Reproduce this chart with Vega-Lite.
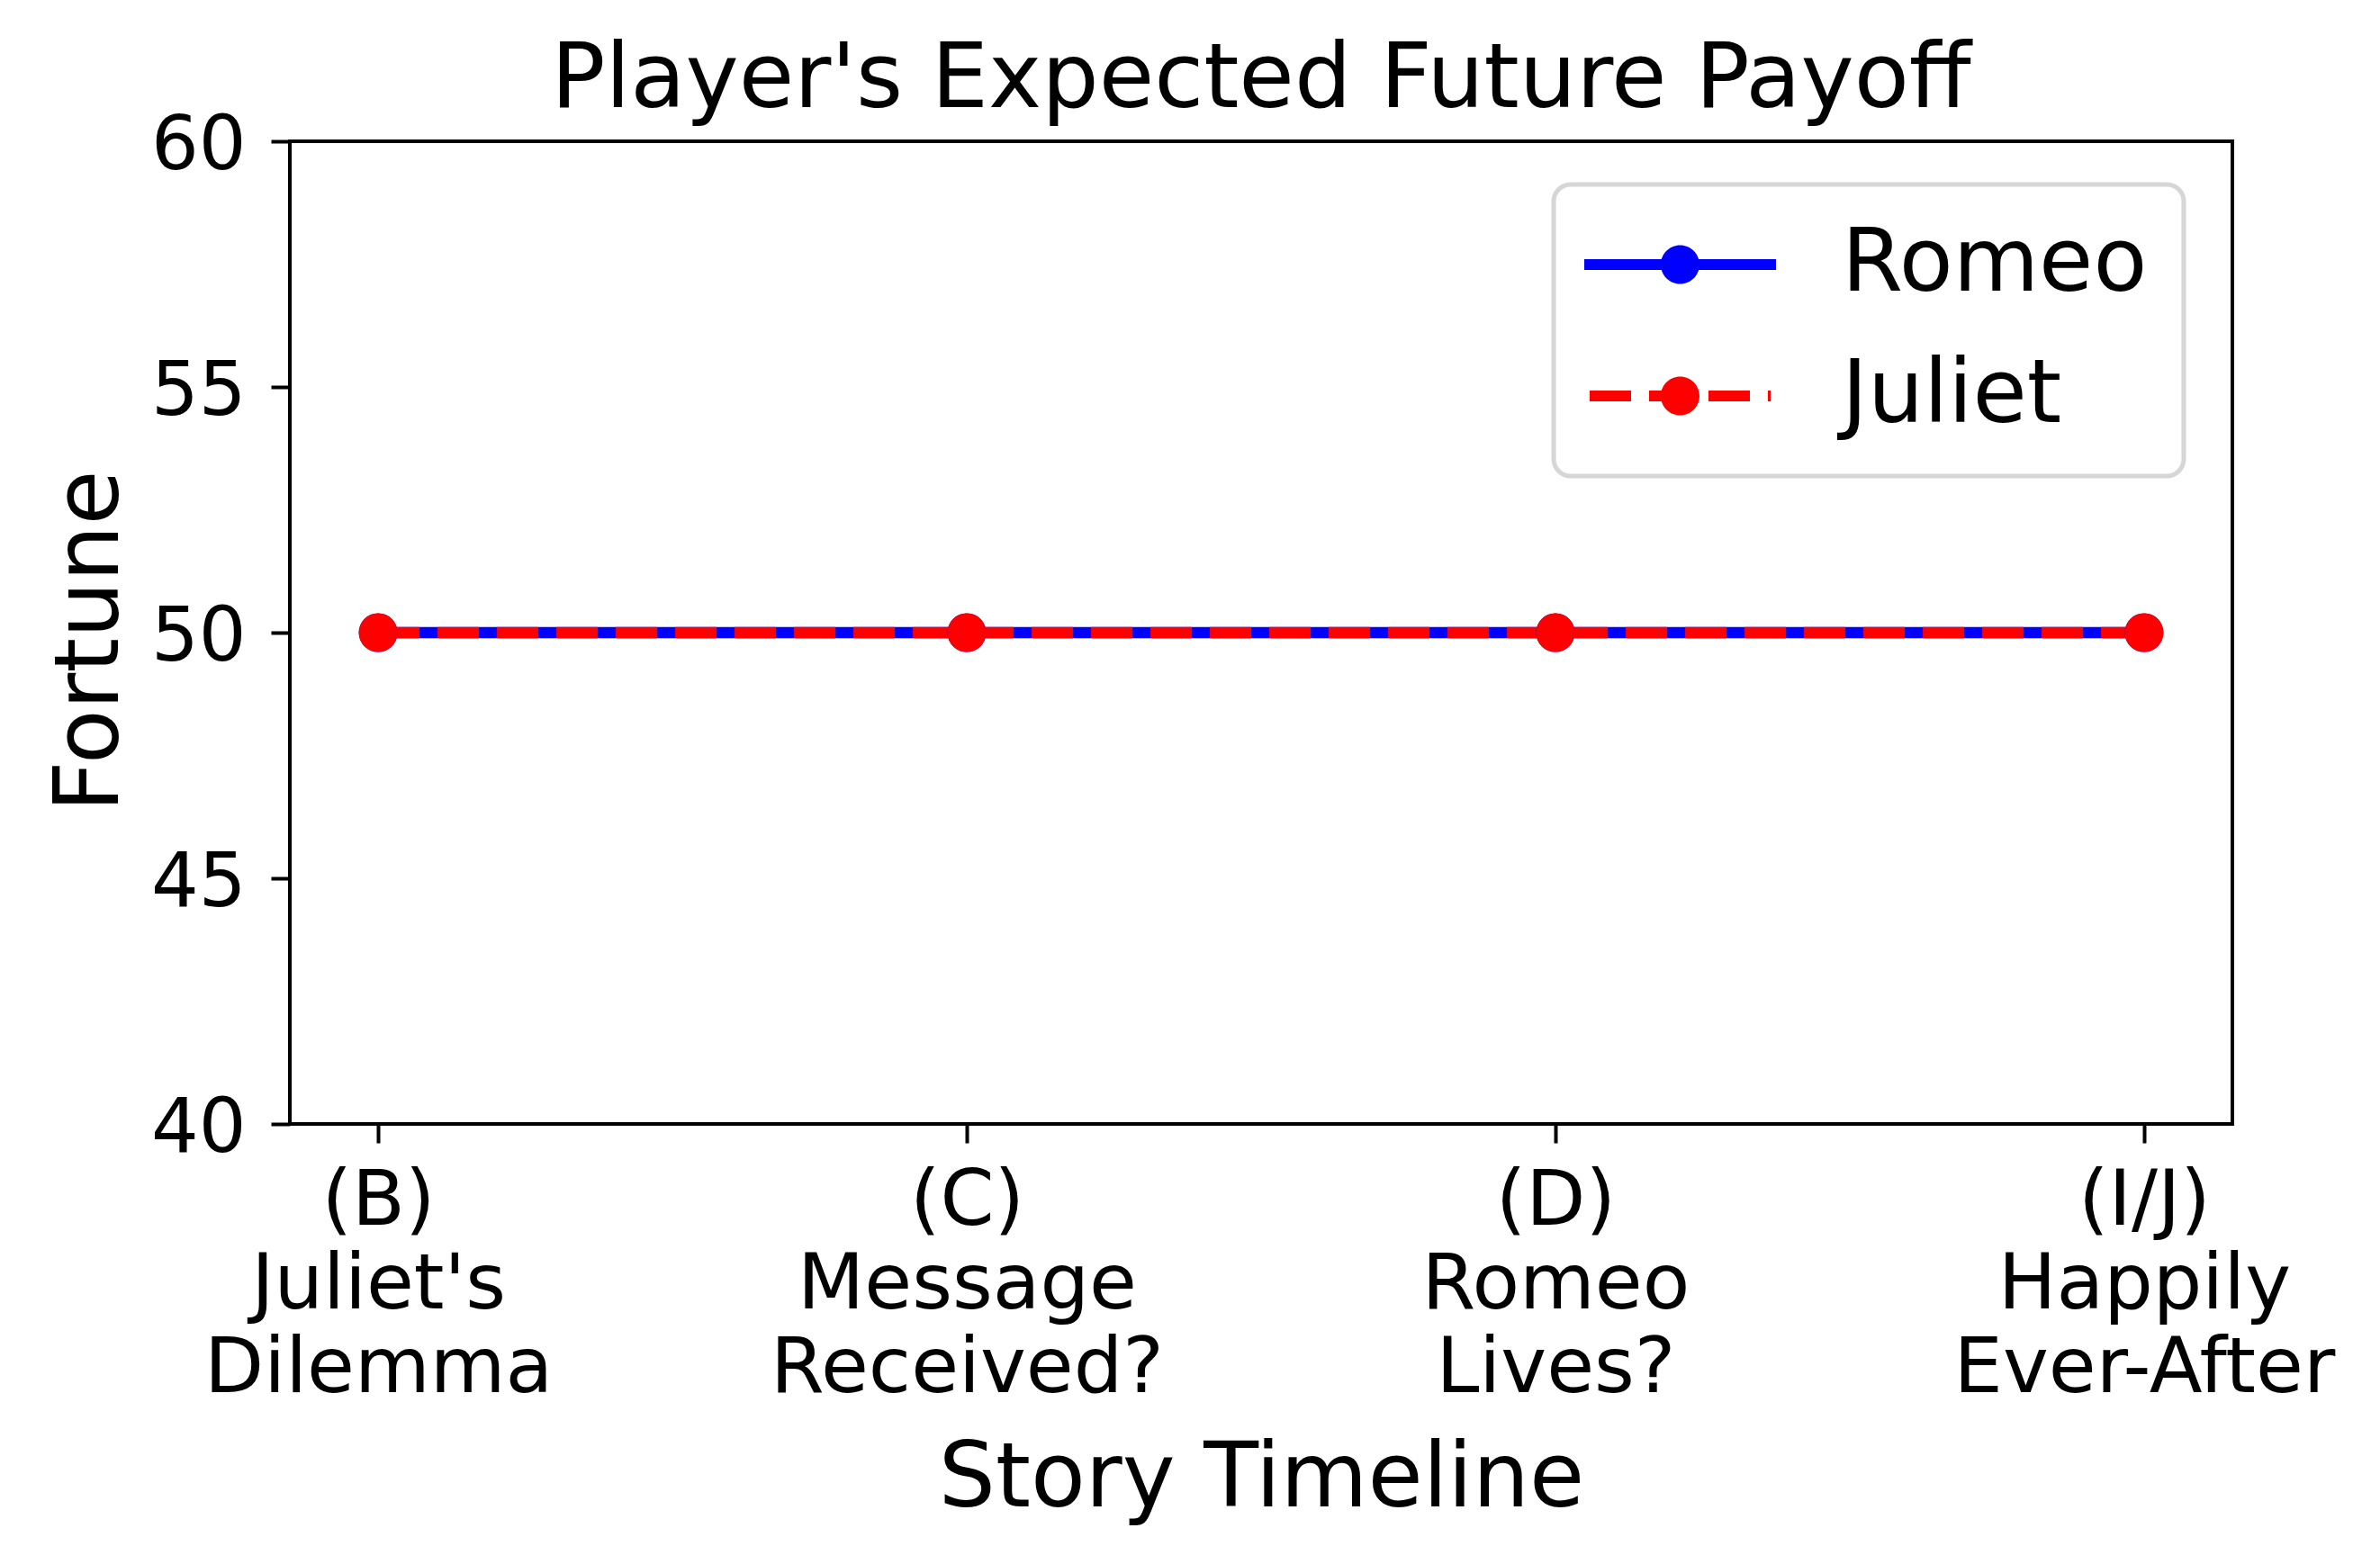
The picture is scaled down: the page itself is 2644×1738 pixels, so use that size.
{
  "$schema": "https://vega.github.io/schema/vega-lite/v6.json",
  "width": 2158,
  "height": 1092,
  "autosize": {"type": "none"},
  "padding": {"left": 322, "top": 157, "right": 164, "bottom": 489},
  "background": "white",
  "config": {
    "font": "DejaVu Sans",
    "view": {"stroke": "black", "strokeWidth": 4},
    "axis": {"grid": false, "domain": false}
  },
  "title": {
    "text": "Player's Expected Future Payoff",
    "fontSize": 100,
    "font": "DejaVu Sans",
    "fontWeight": "normal",
    "color": "black",
    "anchor": "middle",
    "frame": "group",
    "baseline": "alphabetic",
    "offset": 35,
    "dy": 133
  },
  "data": {
    "values": [
      {"stage": "(B) Juliet's Dilemma", "player": "Romeo", "fortune": 50},
      {"stage": "(C) Message Received?", "player": "Romeo", "fortune": 50},
      {"stage": "(D) Romeo Lives?", "player": "Romeo", "fortune": 50},
      {"stage": "(I/J) Happily Ever-After", "player": "Romeo", "fortune": 50},
      {"stage": "(B) Juliet's Dilemma", "player": "Juliet", "fortune": 50},
      {"stage": "(C) Message Received?", "player": "Juliet", "fortune": 50},
      {"stage": "(D) Romeo Lives?", "player": "Juliet", "fortune": 50},
      {"stage": "(I/J) Happily Ever-After", "player": "Juliet", "fortune": 50}
    ]
  },
  "encoding": {
    "x": {
      "field": "stage",
      "type": "nominal",
      "sort": null,
      "scale": {"type": "point", "padding": 0.15},
      "axis": {
        "title": "Story Timeline",
        "titleFontSize": 99.5,
        "titleFontWeight": "normal",
        "titleColor": "black",
        "titleX": 1079,
        "titleY": 424,
        "titleBaseline": "alphabetic",
        "titleAlign": "center",
        "labelExpr": "split(datum.label, ' ')",
        "labelAngle": 0,
        "labelFontSize": 86,
        "labelLineHeight": 93,
        "labelBaseline": "top",
        "labelAlign": "center",
        "labelPadding": 22,
        "labelColor": "black",
        "labelLimit": 0,
        "labelOverlap": false,
        "labelBound": false,
        "labelFlush": false,
        "tickSize": 21,
        "tickWidth": 4,
        "tickColor": "black"
      }
    },
    "y": {
      "field": "fortune",
      "type": "quantitative",
      "scale": {"domain": [40, 60], "nice": false, "zero": false},
      "axis": {
        "values": [40, 45, 50, 55, 60],
        "title": "Fortune",
        "titleFontSize": 99,
        "titleFontWeight": "normal",
        "titleColor": "black",
        "titleX": -192,
        "titleY": 555,
        "titleAngle": -90,
        "titleBaseline": "alphabetic",
        "titleAlign": "center",
        "labelFontSize": 83,
        "labelColor": "black",
        "labelPadding": 28,
        "labelBaseline": "alphabetic",
        "labelOffset": 30,
        "labelLimit": 0,
        "labelOverlap": false,
        "labelFlush": false,
        "tickSize": 21,
        "tickWidth": 4,
        "tickColor": "black"
      }
    },
    "color": {
      "field": "player",
      "type": "nominal",
      "scale": {"domain": ["Romeo", "Juliet"], "range": ["#0000ff", "#ff0000"]},
      "legend": {
        "orient": "none",
        "legendX": 1404,
        "legendY": 48,
        "title": null,
        "direction": "vertical",
        "labelFontSize": 98,
        "labelColor": "black",
        "labelFont": "DejaVu Sans",
        "labelBaseline": "middle",
        "labelLimit": 0,
        "symbolSize": 4,
        "symbolStrokeWidth": 0,
        "symbolOffset": -49,
        "labelOffset": 231,
        "rowPadding": 48,
        "padding": 40,
        "strokeColor": "#d6d6d6",
        "fillColor": "white",
        "cornerRadius": 19,
        "encode": {
          "legend": {"update": {"strokeWidth": {"value": 5}}},
          "symbols": {
            "update": {
              "shape": {"signal": "datum.value === 'Romeo' ? 'M-6,-6H207V6H-6Z M79,0A21.5,21.5 0 1,1 122,0A21.5,21.5 0 1,1 79,0Z' : 'M0,-6H46V6H0Z M66,-6H112V6H66Z M132,-6H178V6H132Z M198,-6H201V6H198Z M79,0A21.5,21.5 0 1,1 122,0A21.5,21.5 0 1,1 79,0Z'"},
              "fill": {"scale": "color", "field": "value"},
              "strokeWidth": {"value": 0},
              "opacity": {"value": 1},
              "size": {"value": 4}
            }
          }
        }
      }
    }
  },
  "layer": [
    {
      "mark": {"type": "line", "strokeWidth": 12.5, "strokeCap": "butt"},
      "encoding": {
        "strokeDash": {
          "field": "player",
          "type": "nominal",
          "scale": {"domain": ["Romeo", "Juliet"], "range": [[1, 0], [46, 20]]},
          "legend": null
        }
      }
    },
    {
      "mark": {"type": "point", "shape": "circle", "filled": true, "size": 1850, "opacity": 1, "strokeWidth": 0}
    }
  ]
}
